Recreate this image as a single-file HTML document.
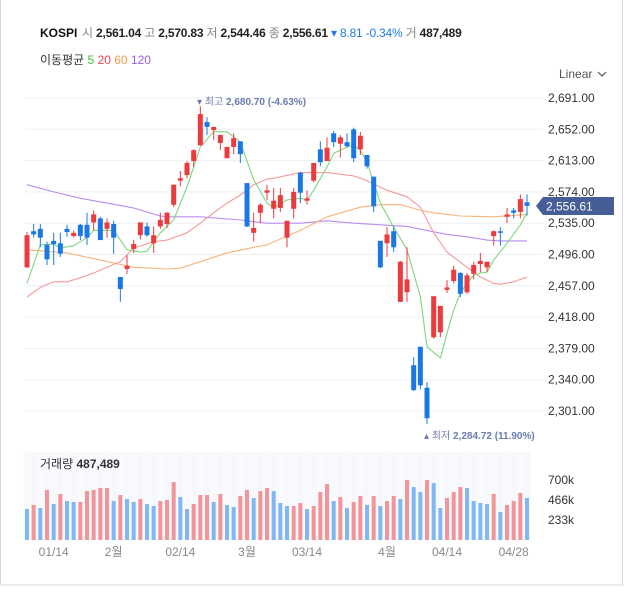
<!DOCTYPE html>
<html><head><meta charset="utf-8"><style>
html,body{margin:0;padding:0;background:#fff;}
body{width:625px;height:587px;overflow:hidden;font-family:"Liberation Sans","Noto Sans CJK KR",sans-serif;}
svg text{font-family:"Liberation Sans","Noto Sans CJK KR",sans-serif;}
</style></head><body>
<svg id="chart" width="625" height="587" viewBox="0 0 625 587" xmlns="http://www.w3.org/2000/svg">
<rect x="0" y="0" width="625" height="587" fill="#fff"/>
<rect x="0.5" y="-1" width="622" height="586" fill="none" stroke="#d8d8d8"/>
<g>
<text x="40" y="37" font-size="12" font-weight="bold" fill="#111">KOSPI</text>
<text x="82" y="37" font-size="12" fill="#222" letter-spacing="-0.2"><tspan fill="#888">시</tspan> <tspan font-weight="bold">2,561.04</tspan> <tspan fill="#888">고</tspan> <tspan font-weight="bold">2,570.83</tspan> <tspan fill="#888">저</tspan> <tspan font-weight="bold">2,544.46</tspan> <tspan fill="#888">종</tspan> <tspan font-weight="bold">2,556.61</tspan> <tspan fill="#1e7be8">▾ 8.81 -0.34%</tspan> <tspan fill="#888">거</tspan> <tspan font-weight="bold">487,489</tspan></text>
<text x="40" y="64" font-size="12" fill="#333">이동평균 <tspan fill="#3cc43c">5</tspan> <tspan fill="#f04050">20</tspan> <tspan fill="#f59a4a">60</tspan> <tspan fill="#9a5cf0">120</tspan></text>
<text x="559" y="78" font-size="12" fill="#555">Linear</text>
<path d="M598 72 l4 4 l4 -4" fill="none" stroke="#555" stroke-width="1.2"/>
</g>
<g id="grid"></g>
<g id="volbg"></g>
<g id="mas"></g>
<g id="candles"></g>
<g id="vols"></g>
<g id="axis"></g>
<g>
<text x="197" y="105" font-size="10" fill="#6a7bb0">▾ 최고 <tspan font-weight="bold">2,680.70 (-4.63%)</tspan></text>
<text x="424" y="439" font-size="10" fill="#6a7bb0">▴ 최저 <tspan font-weight="bold">2,284.72 (11.90%)</tspan></text>
<text x="40" y="468" font-size="12" fill="#333">거래량 <tspan font-weight="bold">487,489</tspan></text>
</g>
<g>
<polygon points="536,206 543,197 614,197 614,215 543,215" fill="#475d95"/>
<text x="546" y="210.5" font-size="12" fill="#fff">2,556.61</text>
</g>
</svg>
<script>
const opens=[2480,2525,2528,2508,2513,2510,2528,2519,2533,2533,2536,2541,2528,2534,2468,2478,2503,2520,2531,2510,2531,2534,2558,2588,2595,2612.5,2632,2661,2651,2635,2616,2630,2637,2585,2523,2548,2573,2553,2554,2517,2553,2598,2563,2588,2627,2612.5,2647,2634,2636,2652,2627,2620,2593,2513,2510,2525,2437,2449,2358,2381,2330,2393,2399,2452,2463,2473,2449,2472,2484,2480,2519,2525,2543,2551,2549,2561.04];
const highs=[2524,2534,2534,2512,2523,2523,2533,2526,2534,2548,2551,2543,2541,2538,2468,2495,2514,2536,2536,2531,2548,2549,2583,2600,2612.5,2627,2680.7,2667,2655,2645,2630,2647,2637,2585,2548,2560,2583,2579,2579,2538,2579,2599,2576,2610,2637,2642,2650,2645,2647,2654,2649,2620,2593,2513,2530,2531,2488,2505,2368,2381,2337,2444,2432,2464,2482,2474,2473,2487,2498,2487,2526,2530,2554,2554,2570.8,2570.83];
const lows=[2479,2517,2505,2483,2483,2493,2518,2517,2514,2508,2526,2514,2517,2497,2437,2472,2498,2515,2518,2498,2528,2529,2555,2581,2591,2605,2632,2645,2639,2626,2616,2621,2610,2530,2512,2535,2564,2541,2549,2505,2541,2560,2558,2586,2606,2612.5,2630,2617,2629,2611,2620,2603,2549,2479,2493,2499,2437,2437,2326,2328,2284.7,2391,2393,2448,2460,2443,2447,2465,2474,2474,2507,2507,2535,2541,2541,2544.46];
const closes=[2520,2521,2517,2490,2509,2497,2524,2523,2519,2517,2546,2514,2536,2517,2453,2482,2509,2536,2520,2520,2539,2548,2583,2591,2610,2626,2671,2655,2655,2645,2630,2641,2621,2531,2529,2558,2576,2563,2570,2538,2574,2573,2566,2610,2611,2629,2636,2642,2631,2616,2644,2606,2556,2480,2521,2505,2487,2465,2327,2333,2292,2444,2432,2455,2477,2447,2470,2483,2488,2487,2525,2523,2546,2548,2565,2556.61];
const volumes=[361,408,373,583,419,536,454,443,443,571,583,606,606,454,524,478,443,478,419,396,454,466,676,501,361,419,524,524,443,536,408,384,513,583,489,571,606,571,431,396,396,431,361,396,559,652,454,501,373,443,513,408,513,396,454,513,478,699,617,559,699,664,373,489,559,617,606,454,431,419,536,326,408,454,548,489];
const ma5Idx=[0,2,4,5,7,9,10,13,15,17,18,20,22,24,26,28,30,32,34,36,37,39,41,42,43,45,46,48,49,50,51,53,55,57,59,60,62,63,64,65,66,67,68,69,70,72,74,75];
const ma5Val=[2460,2508,2509,2504,2507,2517,2526,2526,2502,2499,2500,2523,2539,2580,2630,2649,2649,2636,2589,2560,2554,2564,2566,2564,2576,2605,2622,2630,2632,2626,2611,2560,2530,2502,2443,2381,2367,2398,2427,2448,2460,2470,2473,2474,2489,2510,2533,2548];
const ma20Idx=[0,2,4,6,8,10,12,14,16,19,21,24,26,28,30,32,34,36,37,41,45,49,51,54,57,59,60,61,63,66,68,70,71,73,75];
const ma20Val=[2443,2455,2462,2462,2467,2473,2480,2487,2504,2512,2514,2523,2535,2548,2560,2570,2583,2590,2591,2598,2598,2594,2588,2576,2568,2555,2539,2523,2499,2480,2468,2460,2459,2462,2468];
const ma60Idx=[0,6,11,16,21,23,26,30,34,36,41,45,50,53,56,57,59,61,65,70,75];
const ma60Val=[2502,2498,2489,2480,2478,2479,2487,2498,2505,2508,2526,2543,2555,2558,2558,2556,2551,2548,2544,2543,2546];
const ma120Idx=[0,4,8,12,16,20,21,26,32,36,41,45,49,53,57,60,63,66,69,71,75];
const ma120Val=[2583,2574,2566,2560,2554,2544,2543,2543,2539,2535,2535,2538,2535,2533,2531,2526,2521,2518,2514,2513,2513];
const priceTicks=[2691,2652,2613,2574,2535,2496,2457,2418,2379,2340,2301];
const volTicks=[233,466,700];
const volTickLabels=["233k","466k","700k"];
const dateIdx=[4,13,23,33,42,54,63,73];
const dateLabels=["01/14","2월","02/14","3월","03/14","4월","04/14","04/28"];

const NS="http://www.w3.org/2000/svg";
const X=i=>27+i*6.667;
const Y=p=>98+(2691-p)*0.8026;
const VY=v=>540-v*20/233;
function mk(tag,attrs,parent){const e=document.createElementNS(NS,tag);for(const k in attrs)e.setAttribute(k,attrs[k]);document.getElementById(parent).appendChild(e);return e;}

priceTicks.forEach(t=>{
  const l=mk('line',{x1:25,x2:543,y1:Y(t),y2:Y(t),stroke:'#eeeff2','stroke-width':1},'grid');
  
  
  const tx=mk('text',{x:548,y:Y(t)+4,'font-size':12,fill:'#333'},'axis');
  tx.textContent=t.toLocaleString('en-US',{minimumFractionDigits:2,maximumFractionDigits:2});
  
  
});
for(let i=0;i<closes.length;i++){
  const r=mk('rect',{x:X(i)-3.3,y:452,width:6.6,height:88,fill:i%2?'#f6f8fc':'#f9fafd'},'volbg');
  
  
}
volTicks.forEach((t,k)=>{
  const tx=mk('text',{x:548,y:VY(t)+4,'font-size':12,fill:'#333'},'axis');
  tx.textContent=volTickLabels[k];
  
  
});
dateIdx.forEach((d,k)=>{
  const tx=mk('text',{x:X(d),y:556,'font-size':12,fill:'#888','text-anchor':'middle'},'axis');
  tx.textContent=dateLabels[k];
  
  
});
function maLine(idx,val,color,name){
  const pts=idx.map((d,k)=>X(d).toFixed(1)+','+Y(val[k]).toFixed(1)).join(' ');
  const pl=mk('polyline',{points:pts,fill:'none',stroke:color,'stroke-width':1.1,'stroke-linejoin':'round'},'mas');
  
  
}
maLine(ma120Idx,ma120Val,'#b98cf0','ma120-line');
maLine(ma60Idx,ma60Val,'#f7b47a','ma60-line');
maLine(ma20Idx,ma20Val,'#f59a9a','ma20-line');
maLine(ma5Idx,ma5Val,'#7fd67f','ma5-line');
for(let i=0;i<closes.length;i++){
  const up=closes[i]>=opens[i];
  const c=up?'#ec3b3f':'#1a78e6';
  const w=mk('line',{x1:X(i),x2:X(i),y1:Y(highs[i]),y2:Y(lows[i]),stroke:c,'stroke-width':1},'candles');
  
  
  const top=Y(Math.max(opens[i],closes[i])),bot=Y(Math.min(opens[i],closes[i]));
  const b=mk('rect',{x:X(i)-2.5,y:top,width:5,height:Math.max(1.5,bot-top),fill:c},'candles');
  
  
  const upv=i>0&&volumes[i]>=volumes[i-1];
  const v=mk('rect',{x:X(i)-2,y:VY(volumes[i]),width:4,height:540-VY(volumes[i]),fill:upv?'#f29498':'#7fb8f5'},'vols');
  
  
}
</script>
</body></html>
